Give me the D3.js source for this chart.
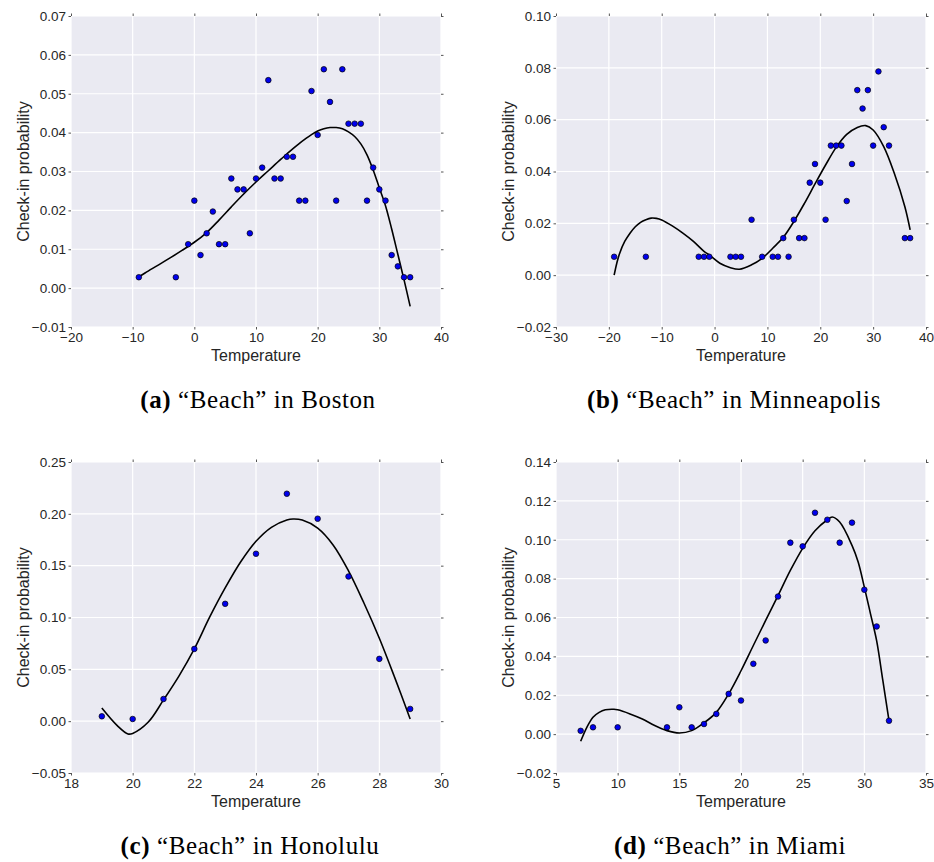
<!DOCTYPE html>
<html><head><meta charset="utf-8">
<script src="https://cdn.jsdelivr.net/npm/d3@7"></script>
<style>body{margin:0;background:#fff} svg{display:block}</style>
</head><body>
<svg id="c" width="934" height="862"></svg>
<script>
// ---------- Data ----------
const bostonTemp = [-9,-3,-1,0,1,2,3,4,5,6,7,8,9,10,11,12,13,14,15,16,17,18,19,20,21,22,23,24,25,26,27,28,29,30,31,32,33,34,35];
const bostonProb = [0.0028,0.0028,0.0113,0.0225,0.0085,0.0141,0.0197,0.0113,0.0113,0.0282,0.0254,0.0254,0.0141,0.0282,0.0310,0.0535,0.0282,0.0282,0.0338,0.0338,0.0225,0.0225,0.0507,0.0394,0.0563,0.0479,0.0225,0.0563,0.0423,0.0423,0.0423,0.0225,0.0310,0.0254,0.0225,0.0085,0.0056,0.0028,0.0028];
const bostonFitTemp = [-9,-8,-6,-4,-2,0,2,4,6,8,10,12,14,15,16,17,18,19,20,21,22,23,24,25,26,27,28,29,30,31,32,33,34,35];
const bostonFitProb = [0.0029,0.0039,0.0058,0.0077,0.0097,0.0118,0.0143,0.0175,0.0209,0.0242,0.0273,0.0302,0.0331,0.0345,0.0359,0.0372,0.0384,0.0395,0.0404,0.0410,0.0413,0.0413,0.0410,0.0402,0.0390,0.0371,0.0343,0.0304,0.0258,0.0212,0.0152,0.0087,0.0022,-0.0047];
const bostonXTicks = [-20,-10,0,10,20,30,40];
const bostonYTicks = [-0.01,0,0.01,0.02,0.03,0.04,0.05,0.06,0.07];

const minneTemp = [-19,-13,-3,-2,-1,3,4,5,7,9,11,12,13,14,15,16,17,18,19,20,21,22,23,24,25,26,27,28,29,30,31,32,33,36,37];
const minneProb = [0.0071,0.0071,0.0071,0.0071,0.0071,0.0071,0.0071,0.0071,0.0214,0.0071,0.0071,0.0071,0.0143,0.0071,0.0214,0.0143,0.0143,0.0357,0.0429,0.0357,0.0214,0.0500,0.0500,0.0500,0.0286,0.0429,0.0714,0.0643,0.0714,0.0500,0.0786,0.0571,0.0500,0.0143,0.0143];
const minneFitTemp = [-19,-18.5,-18,-17,-16,-15,-14,-13,-12,-11,-10,-8,-6,-4,-2,-1,1,3,4.7,7,9,11,13,15,17,19,21,23,25,27,28.6,30,32,34,36,37];
const minneFitProb = [0.0000,0.0046,0.0082,0.0130,0.0162,0.0187,0.0204,0.0214,0.0220,0.0219,0.0213,0.0190,0.0162,0.0130,0.0092,0.0078,0.0046,0.0029,0.0023,0.0040,0.0065,0.0104,0.0146,0.0207,0.0277,0.0352,0.0425,0.0493,0.0543,0.0570,0.0577,0.0560,0.0496,0.0393,0.0264,0.0175];
const minneXTicks = [-30,-20,-10,0,10,20,30,40];
const minneYTicks = [-0.02,0,0.02,0.04,0.06,0.08,0.10];

const honoTemp = [19,20,21,22,23,24,25,26,27,28,29];
const honoProb = [0.0047,0.0021,0.0214,0.0697,0.1132,0.1615,0.2194,0.1953,0.1396,0.0601,0.0118];
const honoFitTemp = [19,19.5,19.85,20,20.5,21,21.5,22,22.5,23,23.5,24,24.5,25,25.2,25.5,26,26.5,27,27.5,28,28.5,29];
const honoFitProb = [0.0127,-0.0043,-0.0124,-0.0118,-0.0011,0.0205,0.0435,0.0697,0.1005,0.1285,0.1535,0.1735,0.1870,0.1940,0.1950,0.1940,0.1862,0.1700,0.1450,0.1140,0.0800,0.0420,0.0021];
const honoXTicks = [18,20,22,24,26,28,30];
const honoYTicks = [-0.05,0,0.05,0.10,0.15,0.20,0.25];

const miamiTemp = [7,8,10,14,15,16,17,18,19,20,21,22,23,24,25,26,27,28,29,30,31,32];
const miamiProb = [0.0017,0.0035,0.0035,0.0035,0.0138,0.0035,0.0052,0.0104,0.0207,0.0173,0.0362,0.0482,0.0708,0.0985,0.0966,0.1139,0.1103,0.0985,0.1088,0.0743,0.0554,0.0069];
const miamiFitTemp = [7,7.5,8,8.5,9,9.7,10,11,12,13,14,15,16,17,18,19,20,21,22,23,24,25,26,27,27.4,28,29,29.5,30,30.5,31,31.5,32];
const miamiFitProb = [-0.0037,0.0035,0.0087,0.0112,0.0125,0.0128,0.0125,0.0104,0.0078,0.0044,0.0018,0.0006,0.0018,0.0058,0.0112,0.0207,0.0326,0.0456,0.0585,0.0712,0.0842,0.0956,0.1046,0.1103,0.1117,0.1091,0.0971,0.0885,0.0756,0.0619,0.0480,0.0276,0.0070];
const miamiXTicks = [5,10,15,20,25,30,35];
const miamiYTicks = [-0.02,0,0.02,0.04,0.06,0.08,0.10,0.12,0.14];

const captionLetters = ["(a)","(b)","(c)","(d)"];
const captionCities = ["Boston","Minneapolis","Honolulu","Miami"];
const xLabel = "Temperature";
const yLabel = "Check-in probability";

// ---------- Layout ----------
const W = 370, H = 311;
const panels = [
  {left:71,  top:16,  t:bostonTemp, p:bostonProb, ft:bostonFitTemp, fp:bostonFitProb, xt:bostonXTicks, yt:bostonYTicks, capX:258},
  {left:556, top:16,  t:minneTemp,  p:minneProb,  ft:minneFitTemp,  fp:minneFitProb,  xt:minneXTicks,  yt:minneYTicks,  capX:734},
  {left:71,  top:462, t:honoTemp,   p:honoProb,   ft:honoFitTemp,   fp:honoFitProb,   xt:honoXTicks,   yt:honoYTicks,   capX:250},
  {left:556, top:462, t:miamiTemp,  p:miamiProb,  ft:miamiFitTemp,  fp:miamiFitProb,  xt:miamiXTicks,  yt:miamiYTicks,  capX:730}
];

const svg = d3.select('#c');
const sans = "'Liberation Sans', Arial, sans-serif";
const textCol = '#262626';

panels.forEach((P, i) => {
  const g = svg.append('g').attr('transform', `translate(${P.left},${P.top})`);
  const x = d3.scaleLinear().domain(d3.extent(P.xt)).range([0, W]);
  const y = d3.scaleLinear().domain(d3.extent(P.yt)).range([H, 0]);

  g.append('rect').attr('width', W).attr('height', H).attr('fill', '#EAEAF2');

  g.append('g').selectAll('line').data(P.xt).join('line')
    .attr('x1', d => x(d)).attr('x2', d => x(d)).attr('y1', 0).attr('y2', H)
    .attr('stroke', '#fff').attr('stroke-width', 1.2);
  g.append('g').selectAll('line').data(P.yt).join('line')
    .attr('y1', d => y(d)).attr('y2', d => y(d)).attr('x1', 0).attr('x2', W)
    .attr('stroke', '#fff').attr('stroke-width', 1.2);

  const styleAxis = sel => {
    sel.select('.domain').remove();
    sel.selectAll('.tick line').attr('stroke', '#555').attr('stroke-width', 1);
    sel.selectAll('.tick text').attr('fill', textCol).style('font-family', sans).style('font-size', '13.5px');
  };
  const yfmt = d3.format('.2f'), xfmt = d3.format('d');
  g.append('g').call(d3.axisLeft(y).tickValues(P.yt).tickFormat(yfmt).tickSize(2.5).tickPadding(2.5)).call(styleAxis);
  g.append('g').attr('transform', `translate(0,${H})`)
    .call(d3.axisBottom(x).tickValues(P.xt).tickFormat(xfmt).tickSize(2.5).tickPadding(2.5)).call(styleAxis);
  g.append('g').attr('transform', `translate(${W},0)`)
    .call(d3.axisRight(y).tickValues(P.yt).tickFormat('').tickSize(2.5)).call(styleAxis);
  g.append('g').call(d3.axisTop(x).tickValues(P.xt).tickFormat('').tickSize(2.5)).call(styleAxis);

  // fitted curve
  const line = d3.line().x((d, k) => x(P.ft[k])).y(d => y(d)).curve(d3.curveCatmullRom.alpha(0.5));
  g.append('path').datum(P.fp).attr('d', line)
    .attr('fill', 'none').attr('stroke', '#000').attr('stroke-width', 1.6);

  // points
  g.append('g').selectAll('circle').data(P.p).join('circle')
    .attr('cx', (d, k) => x(P.t[k])).attr('cy', d => y(d)).attr('r', 2.8)
    .attr('fill', '#0000ee').attr('stroke', '#000').attr('stroke-width', 0.7);

  // axis labels
  g.append('text').attr('x', W / 2).attr('y', H + 34).attr('text-anchor', 'middle')
    .style('font-family', sans).style('font-size', '16px').attr('fill', textCol).text(xLabel);
  g.append('text').attr('transform', `translate(-42,${H / 2}) rotate(-90)`).attr('text-anchor', 'middle')
    .style('font-family', sans).style('font-size', '16px').attr('fill', textCol).text(yLabel);

  // caption
  const cap = svg.append('text').attr('x', P.capX).attr('y', P.top + 392).attr('text-anchor', 'middle')
    .style('font-family', "'Liberation Serif', 'Times New Roman', serif").style('font-size', '25px')
    .style('letter-spacing', '0.6px').attr('fill', '#000');
  cap.append('tspan').style('font-weight', 'bold').text(captionLetters[i]);
  cap.append('tspan').text(` \u201CBeach\u201D in ${captionCities[i]}`);
});
</script>
</body></html>
